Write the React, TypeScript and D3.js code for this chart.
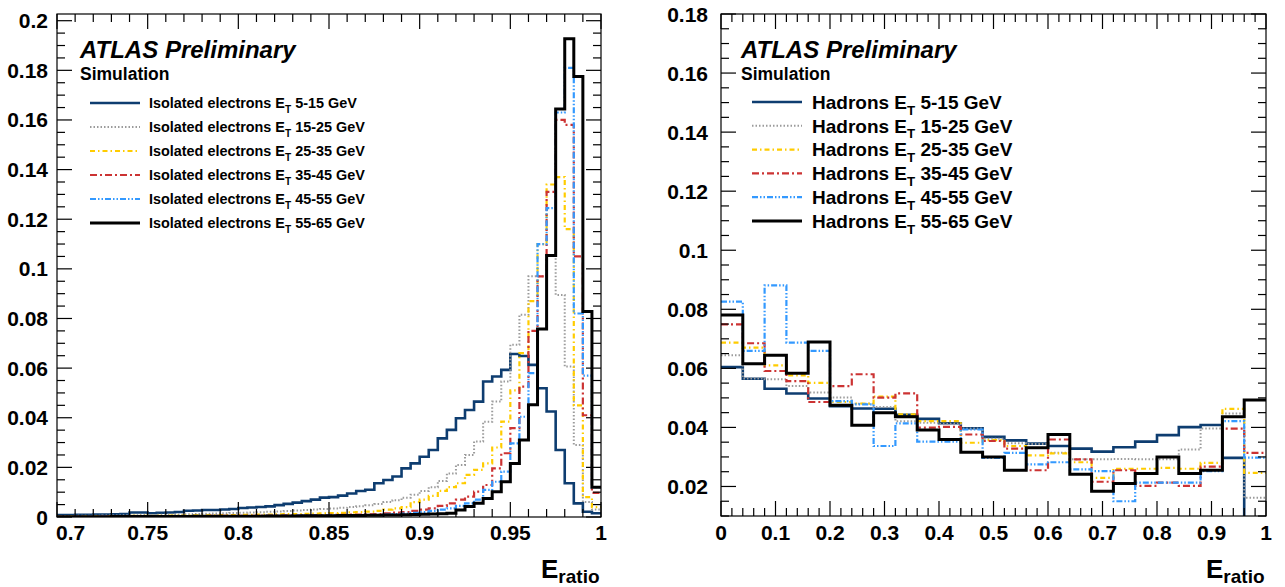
import React from "react";
import * as d3 from "d3";

// ---------- Left panel: isolated electrons, E_ratio 0.7 - 1.0 (60 bins) ----------
const elecLo = 0.7;
const elecBinWidth = 0.005;
const elecLabels = [
  "5-15 GeV",
  "15-25 GeV",
  "25-35 GeV",
  "35-45 GeV",
  "45-55 GeV",
  "55-65 GeV",
];
const elec5_15 = [
  0.0008, 0.0008, 0.0009, 0.0009, 0.001, 0.001, 0.0011, 0.0012, 0.0018, 0.0018,
  0.0015, 0.0017, 0.0018, 0.002, 0.0025, 0.0026, 0.0028, 0.0028, 0.003, 0.0032,
  0.0036, 0.0038, 0.004, 0.0043, 0.0048, 0.0053, 0.0058, 0.0064, 0.007, 0.0078,
  0.008, 0.0086, 0.0095, 0.0105, 0.011, 0.0136, 0.0149, 0.0163, 0.0196, 0.0216,
  0.0243, 0.027, 0.0317, 0.0351, 0.0398, 0.0431, 0.0465, 0.0546, 0.0566, 0.0593,
  0.0657, 0.0649, 0.0613, 0.0519, 0.0425, 0.027, 0.0136, 0.0055, 0.0021, 0.0015,
];
const elec15_25 = [
  0.0004, 0.0004, 0.0005, 0.0005, 0.0005, 0.0006, 0.0006, 0.0007, 0.0007, 0.0008,
  0.0008, 0.0009, 0.0009, 0.001, 0.0011, 0.0012, 0.0013, 0.0014, 0.0015, 0.0016,
  0.0017, 0.0018, 0.0019, 0.0021, 0.0022, 0.0024, 0.0026, 0.0028, 0.003, 0.0032,
  0.0034, 0.0037, 0.004, 0.0043, 0.0047, 0.0052, 0.006, 0.0068, 0.0078, 0.009,
  0.0105, 0.012, 0.0145, 0.0175, 0.021, 0.025, 0.0304, 0.0384, 0.0465, 0.0546,
  0.0694, 0.0815, 0.097, 0.097, 0.1056, 0.0895, 0.0606, 0.029, 0.006, 0.003,
];
const elec25_35 = [
  0.0003, 0.0003, 0.0003, 0.0003, 0.0004, 0.0004, 0.0004, 0.0004, 0.0005, 0.0005,
  0.0005, 0.0005, 0.0006, 0.0006, 0.0006, 0.0007, 0.0007, 0.0007, 0.0008, 0.0008,
  0.0009, 0.0009, 0.001, 0.001, 0.0011, 0.0012, 0.0012, 0.0013, 0.0014, 0.0015,
  0.0016, 0.0017, 0.0019, 0.002, 0.0022, 0.0025, 0.003, 0.0035, 0.004, 0.006,
  0.007, 0.0085, 0.0105, 0.012, 0.0136, 0.017, 0.019, 0.0216, 0.028, 0.0384,
  0.051, 0.066, 0.087, 0.11, 0.134, 0.137, 0.116, 0.045, 0.008, 0.004,
];
const elec35_45 = [
  0.0002, 0.0002, 0.0002, 0.0002, 0.0002, 0.0003, 0.0003, 0.0003, 0.0003, 0.0003,
  0.0003, 0.0003, 0.0004, 0.0004, 0.0004, 0.0004, 0.0004, 0.0005, 0.0005, 0.0005,
  0.0005, 0.0005, 0.0006, 0.0006, 0.0006, 0.0007, 0.0007, 0.0007, 0.0008, 0.0008,
  0.0009, 0.0009, 0.001, 0.001, 0.0011, 0.0012, 0.0015, 0.0018, 0.002, 0.0025,
  0.003, 0.0035, 0.0045, 0.0055, 0.007, 0.0082, 0.0102, 0.0129, 0.0196, 0.0257,
  0.0358, 0.0525, 0.075, 0.097, 0.131, 0.16, 0.158, 0.105, 0.041, 0.0097,
];
const elec45_55 = [
  0.0001, 0.0001, 0.0002, 0.0002, 0.0002, 0.0002, 0.0002, 0.0002, 0.0002, 0.0003,
  0.0003, 0.0003, 0.0003, 0.0003, 0.0003, 0.0003, 0.0004, 0.0004, 0.0004, 0.0004,
  0.0004, 0.0004, 0.0005, 0.0005, 0.0005, 0.0005, 0.0006, 0.0006, 0.0006, 0.0006,
  0.0007, 0.0007, 0.0007, 0.0008, 0.0008, 0.0009, 0.001, 0.0012, 0.0014, 0.0017,
  0.002, 0.0025, 0.003, 0.0035, 0.0045, 0.0055, 0.007, 0.0109, 0.0142, 0.0183,
  0.0297, 0.0404, 0.058, 0.11, 0.1245, 0.163, 0.181, 0.082, 0.057, 0.012,
];
const elec55_65 = [
  0.0001, 0.0001, 0.0001, 0.0001, 0.0001, 0.0001, 0.0002, 0.0002, 0.0002, 0.0002,
  0.0002, 0.0002, 0.0002, 0.0002, 0.0002, 0.0003, 0.0003, 0.0003, 0.0003, 0.0003,
  0.0003, 0.0003, 0.0003, 0.0004, 0.0004, 0.0004, 0.0004, 0.0005, 0.0005, 0.0005,
  0.0005, 0.0006, 0.0006, 0.0006, 0.0007, 0.0007, 0.0008, 0.0008, 0.0009, 0.001,
  0.0011, 0.0012, 0.0013, 0.0015, 0.0028, 0.0042, 0.0055, 0.0075, 0.0102, 0.0142,
  0.0216, 0.031, 0.0452, 0.0758, 0.1054, 0.1644, 0.1927, 0.1775, 0.0828, 0.012,
];

// ---------- Right panel: hadrons, E_ratio 0 - 1 (25 bins) ----------
const hadLo = 0;
const hadBinWidth = 0.04;
const had5_15 = [
  0.0604, 0.0565, 0.0531, 0.0515, 0.0498, 0.0472, 0.0464, 0.0463, 0.0443, 0.0429,
  0.0414, 0.0397, 0.0368, 0.0356, 0.0345, 0.0337, 0.0328, 0.0318, 0.0333, 0.0352,
  0.0374, 0.0401, 0.0408, 0.0297, 0.004,
];
const had15_25 = [
  0.0644, 0.0566, 0.0563, 0.054, 0.0518, 0.0501, 0.048, 0.0469, 0.0421, 0.0416,
  0.0412, 0.0396, 0.0362, 0.0346, 0.0344, 0.0314, 0.0292, 0.0292, 0.0293, 0.0292,
  0.0292, 0.0325, 0.0396, 0.0447, 0.0162,
];
const had25_35 = [
  0.0687, 0.067, 0.061, 0.0576, 0.0551, 0.0486, 0.0481, 0.0504, 0.0444, 0.0421,
  0.0421, 0.0348, 0.0357, 0.0337, 0.0305, 0.0312, 0.0282, 0.0229, 0.026, 0.026,
  0.0263, 0.026, 0.028, 0.0463, 0.0246,
];
const had35_45 = [
  0.0749, 0.0685, 0.0591, 0.0557, 0.0486, 0.054, 0.058, 0.0501, 0.0515, 0.0399,
  0.0402, 0.0376, 0.0354, 0.0328, 0.0255, 0.0359, 0.0292, 0.0216, 0.0255, 0.0202,
  0.0213, 0.0202, 0.0267, 0.0396, 0.0314,
];
const had45_55 = [
  0.0826, 0.0659, 0.0881, 0.0687, 0.0659, 0.0489, 0.0478, 0.0337, 0.0414, 0.0352,
  0.0352, 0.0393, 0.0297, 0.0314, 0.0275, 0.0282, 0.0258, 0.0252, 0.015, 0.0213,
  0.0213, 0.0213, 0.0252, 0.0421, 0.0298,
];
const had55_65 = [
  0.0781, 0.0616, 0.0644, 0.0583, 0.0689, 0.0475, 0.0407, 0.045, 0.0436, 0.0391,
  0.0359, 0.0316, 0.03, 0.0255, 0.0331, 0.0376, 0.0241, 0.0184, 0.021, 0.0244,
  0.03, 0.0244, 0.0255, 0.0436, 0.0493,
];

const leftYTicks = [0, 0.02, 0.04, 0.06, 0.08, 0.1, 0.12, 0.14, 0.16, 0.18, 0.2];
const leftXTicks = [0.7, 0.75, 0.8, 0.85, 0.9, 0.95, 1];
const rightYTicks = [0.02, 0.04, 0.06, 0.08, 0.1, 0.12, 0.14, 0.16, 0.18];
const rightXTicks = [0, 0.1, 0.2, 0.3, 0.4, 0.5, 0.6, 0.7, 0.8, 0.9, 1];

// line styles (same order as the series)
const STYLES = [
  { stroke: "#0e3d70", width: 2.6, dash: "" },
  { stroke: "#9b9b9b", width: 2, dash: "1.5 2" },
  { stroke: "#ffcc00", width: 2.2, dash: "5 3 1.5 3" },
  { stroke: "#cc3333", width: 2.2, dash: "7 3 2 3" },
  { stroke: "#3399ff", width: 2.2, dash: "6 2 1.5 2 1.5 2" },
  { stroke: "#000000", width: 3, dash: "" },
];

const FONT = "'Liberation Sans', Arial, Helvetica, sans-serif";

type PanelProps = {
  id: string;
  x0: number;
  x1: number;
  yTop: number;
  yBot: number;
  xDomain: [number, number];
  yDomain: [number, number];
  xTicks: number[];
  yTicks: number[];
  xMinorStep: number;
  yMinorStep: number;
  series: number[][];
  lo: number;
  binW: number;
  labelRight: number;
  fmtX: (v: number) => string;
};

function Panel(p: PanelProps) {
  const x = d3.scaleLinear().domain(p.xDomain).range([p.x0, p.x1]);
  const y = d3.scaleLinear().domain(p.yDomain).range([p.yBot, p.yTop]);
  const line = d3
    .line<[number, number]>()
    .x((d) => x(d[0]))
    .y((d) => y(d[1]))
    .curve(d3.curveStepAfter);

  const pathFor = (vals: number[]) => {
    const pts: [number, number][] = vals.map((v, i) => [p.lo + i * p.binW, v]);
    pts.push([p.lo + vals.length * p.binW, vals[vals.length - 1]]);
    return line(pts) || "";
  };

  const eps = 1e-9;
  const xMinor = d3
    .range(p.xDomain[0], p.xDomain[1] + eps, p.xMinorStep)
    .filter((v) => v <= p.xDomain[1] + eps);
  const yMinorStart = Math.ceil(p.yDomain[0] / p.yMinorStep - eps) * p.yMinorStep;
  const yMinor = d3
    .range(yMinorStart, p.yDomain[1] + eps, p.yMinorStep)
    .filter((v) => v <= p.yDomain[1] + eps);
  const isMajor = (v: number, arr: number[]) => arr.some((t) => Math.abs(t - v) < 1e-6);

  const MAJ = 15;
  const MIN = 8;

  return (
    <g>
      <defs>
        <clipPath id={`clip-${p.id}`}>
          <rect x={p.x0} y={p.yTop} width={p.x1 - p.x0} height={p.yBot - p.yTop} />
        </clipPath>
      </defs>
      <g clipPath={`url(#clip-${p.id})`}>
        {p.series.map((vals, i) => (
          <path
            key={i}
            d={pathFor(vals)}
            fill="none"
            stroke={STYLES[i].stroke}
            strokeWidth={STYLES[i].width}
            strokeDasharray={STYLES[i].dash || undefined}
            strokeLinejoin="miter"
          />
        ))}
      </g>
      {/* frame */}
      <rect
        x={p.x0}
        y={p.yTop}
        width={p.x1 - p.x0}
        height={p.yBot - p.yTop}
        fill="none"
        stroke="#000"
        strokeWidth={1.2}
      />
      {/* x ticks bottom & top */}
      {xMinor.map((v, i) => {
        const len = isMajor(v, p.xTicks) ? MAJ : MIN;
        const xx = x(v);
        return (
          <g key={"xt" + i} stroke="#000" strokeWidth={1.2}>
            <line x1={xx} x2={xx} y1={p.yBot} y2={p.yBot - len} />
            <line x1={xx} x2={xx} y1={p.yTop} y2={p.yTop + len} />
          </g>
        );
      })}
      {/* y ticks left & right */}
      {yMinor.map((v, i) => {
        const len = isMajor(v, p.yTicks) ? MAJ : MIN;
        const yy = y(v);
        return (
          <g key={"yt" + i} stroke="#000" strokeWidth={1.2}>
            <line x1={p.x0} x2={p.x0 + len} y1={yy} y2={yy} />
            <line x1={p.x1} x2={p.x1 - len} y1={yy} y2={yy} />
          </g>
        );
      })}
      {/* y labels */}
      {p.yTicks.map((v, i) => (
        <text
          key={"yl" + i}
          x={p.labelRight}
          y={y(v) + 7.5}
          textAnchor="end"
          fontFamily={FONT}
          fontWeight="bold"
          fontSize={21}
        >
          {d3.format("~g")(v)}
        </text>
      ))}
      {/* x labels */}
      {p.xTicks.map((v, i) => {
        const first = i === 0 && p.id === "left";
        return (
          <text
            key={"xl" + i}
            x={first ? x(v) - 1 : x(v)}
            y={540}
            textAnchor={first ? "start" : "middle"}
            fontFamily={FONT}
            fontWeight="bold"
            fontSize={21}
          >
            {p.fmtX(v)}
          </text>
        );
      })}
      {/* axis title */}
      <text x={p.x1 - 60} y={578} fontFamily={FONT} fontWeight="bold" fontSize={26}>
        E
        <tspan fontSize={19} dy={5}>
          ratio
        </tspan>
      </text>
    </g>
  );
}

function Legend(props: {
  x: number;
  y: number;
  dy: number;
  lineLen: number;
  textX: number;
  fontSize: number;
  prefix: string;
}) {
  const { x, y, dy, lineLen, textX, fontSize, prefix } = props;
  return (
    <g>
      {elecLabels.map((lab, i) => {
        const yy = y + i * dy;
        const st = STYLES[i];
        return (
          <g key={i}>
            <line
              x1={x}
              x2={x + lineLen}
              y1={yy}
              y2={yy}
              stroke={st.stroke}
              strokeWidth={st.width}
              strokeDasharray={st.dash || undefined}
            />
            <text
              x={textX}
              y={yy + fontSize * 0.36}
              fontFamily={FONT}
              fontWeight="bold"
              fontSize={fontSize}
            >
              {prefix} E
              <tspan fontSize={fontSize * 0.7} dy={fontSize * 0.3}>
                T
              </tspan>
              <tspan dy={-fontSize * 0.3}> {lab}</tspan>
            </text>
          </g>
        );
      })}
    </g>
  );
}

function Header(props: { x: number }) {
  return (
    <g fontFamily={FONT} fontWeight="bold">
      <text x={props.x} y={58} fontSize={24} fontStyle="italic">
        ATLAS Preliminary
      </text>
      <text x={props.x} y={80} fontSize={17.5}>
        Simulation
      </text>
    </g>
  );
}

export default function App() {
  const fmtLeft = (v: number) => d3.format("~g")(v);
  return (
    <div style={{ position: "fixed", left: 0, top: 0 }}>
      <svg width={1285} height={587} style={{ display: "block", background: "#fff" }}>
        <Panel
          id="left"
          x0={57}
          x1={601}
          yTop={14}
          yBot={517}
          xDomain={[0.7, 1]}
          yDomain={[0, 0.2027]}
          xTicks={leftXTicks}
          yTicks={leftYTicks}
          xMinorStep={0.01}
          yMinorStep={0.005}
          series={[elec5_15, elec15_25, elec25_35, elec35_45, elec45_55, elec55_65]}
          lo={elecLo}
          binW={elecBinWidth}
          labelRight={48}
          fmtX={fmtLeft}
        />
        <Panel
          id="right"
          x0={721}
          x1={1266}
          yTop={14}
          yBot={516}
          xDomain={[0, 1]}
          yDomain={[0.01, 0.18]}
          xTicks={rightXTicks}
          yTicks={rightYTicks}
          xMinorStep={0.02}
          yMinorStep={0.005}
          series={[had5_15, had15_25, had25_35, had35_45, had45_55, had55_65]}
          lo={hadLo}
          binW={hadBinWidth}
          labelRight={708}
          fmtX={fmtLeft}
        />
        <Header x={80} />
        <Header x={741} />
        <Legend x={90} y={103} dy={24} lineLen={50} textX={149} fontSize={14.4} prefix="Isolated electrons" />
        <Legend x={752} y={102} dy={23.8} lineLen={50} textX={812} fontSize={19} prefix="Hadrons" />
      </svg>
    </div>
  );
}
